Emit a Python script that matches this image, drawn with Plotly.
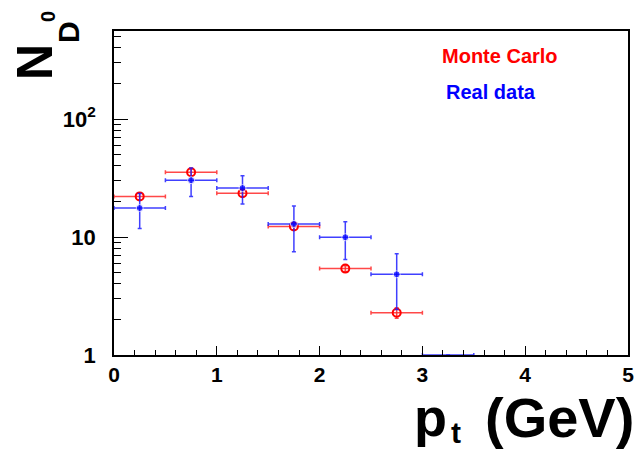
import plotly.graph_objects as go

# Bin centres (pt, GeV) and half-widths
pt_mc = [0.25, 0.75, 1.25, 1.75, 2.25, 2.75]
pt_data = [0.25, 0.75, 1.25, 1.75, 2.25, 2.75, 3.25]
half_width = 0.25

# Monte Carlo
mc_vals = [22.1, 35.4, 23.5, 12.3, 5.4, 2.28]
mc_errs = [1.4, 2.5, 1.5, 0.8, 0.3, 0.23]

# Real data (last bin is empty -> drawn on the axis floor)
data_vals = [17.6, 30.3, 26.0, 12.9, 9.96, 4.83, 1.0]
data_errs = [5.8, 8.2, 7.0, 5.4, 3.5, 2.4, 0.0]
data_msize = [7, 7, 7, 7, 7, 7, 0]

y_tickvals = [1, 10, 100]
y_ticktext = ["1", "10", "10<sup>2</sup>"]
x_tickvals = [0, 1, 2, 3, 4, 5]

RED = "#ff0000"
BLUE = "#0000ff"
FONT = "Liberation Sans"

fig = go.Figure()

fig.add_trace(go.Scatter(
    x=pt_mc, y=mc_vals, mode="markers",
    marker=dict(symbol="circle-open", size=8, color=RED, line=dict(width=2, color=RED)),
    error_x=dict(type="constant", value=half_width, color="rgba(255,40,40,0.85)", thickness=1.5, width=2),
    error_y=dict(type="data", array=mc_errs, color="rgba(255,40,40,0.85)", thickness=1.5, width=2),
    showlegend=False, cliponaxis=False,
))

fig.add_trace(go.Scatter(
    x=pt_data, y=data_vals, mode="markers",
    marker=dict(symbol="circle", size=data_msize, color=BLUE),
    error_x=dict(type="constant", value=half_width, color="rgba(30,30,255,0.85)", thickness=1.5, width=2),
    error_y=dict(type="data", array=data_errs, color="rgba(30,30,255,0.85)", thickness=1.5, width=2),
    showlegend=False, cliponaxis=False,
))

L, R, T, B = 114, 11, 31, 96
W, H = 639, 451
pw, ph = W - L - R, H - T - B


def px(x):
    return (x - L) / pw


def py(y):
    return (H - B - y) / ph


def ann(text, x, y, size, color="black", angle=0, xanchor="center"):
    return dict(text=text, x=px(x), y=py(y), xref="paper", yref="paper",
                xanchor=xanchor, yanchor="middle", textangle=angle, showarrow=False,
                font=dict(size=size, color=color, family=FONT, weight="bold"))


fig.update_layout(
    width=W, height=H,
    margin=dict(l=L, r=R, t=T, b=B, pad=0, autoexpand=False),
    paper_bgcolor="white", plot_bgcolor="white",
    font=dict(family=FONT, color="black"),
    xaxis=dict(
        range=[0, 5], tickvals=x_tickvals, ticks="inside", ticklen=9, tickwidth=1,
        tickcolor="black", showline=True, linecolor="black", linewidth=1.5, mirror=True,
        showgrid=False, zeroline=False, automargin=False,
        tickfont=dict(size=21, family=FONT, weight="bold"),
        minor=dict(dtick=0.2, ticks="inside", ticklen=5, tickcolor="black", showgrid=False),
    ),
    yaxis=dict(
        type="log", range=[0, 2.746], tickvals=y_tickvals, ticktext=y_ticktext,
        ticks="inside", ticklen=14, tickwidth=1, tickcolor="black",
        showline=True, linecolor="black", linewidth=1.5, mirror=True,
        showgrid=False, zeroline=False, ticklabelstandoff=12, automargin=False,
        tickfont=dict(size=22, family=FONT, weight="bold"),
        minor=dict(tickvals=[2, 3, 4, 5, 6, 7, 8, 9, 20, 30, 40, 50, 60, 70, 80, 90, 200, 300, 400, 500],
                   ticks="inside", ticklen=7, tickcolor="black", showgrid=False),
    ),
    annotations=[
        ann("Monte Carlo", 500, 56, 20, RED),
        ann("Real data", 491, 92, 20, BLUE),
        ann("(GeV)", 636, 417, 56, xanchor="right"),
        ann("p", 449, 417, 54, xanchor="right"),
        ann("t", 456, 432, 30),
        ann("N", 35, 62, 50, angle=-90),
        ann("D", 68, 32, 30, angle=-90),
        ann("0", 48, 17, 20, angle=-90),
    ],
)

fig.write_html("out.html")
